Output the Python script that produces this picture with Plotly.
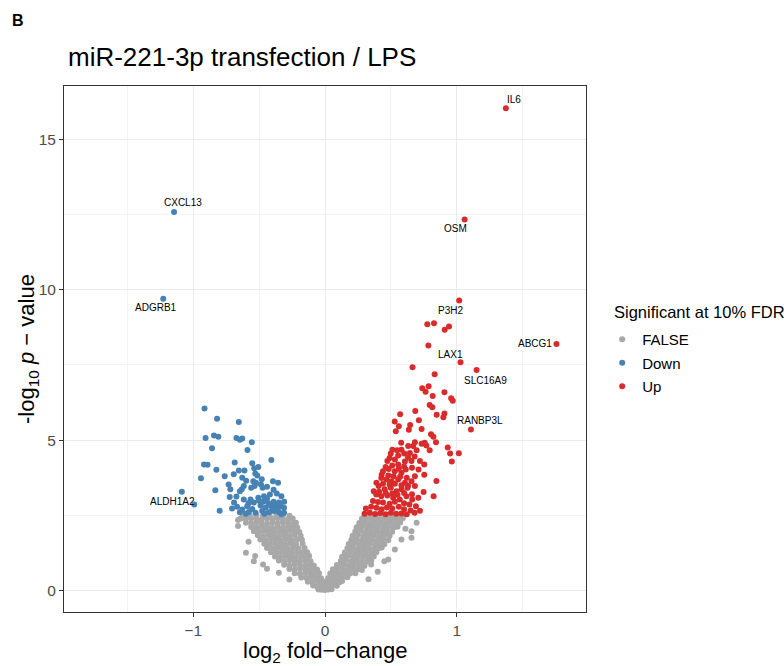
import plotly.graph_objects as go

# ---------------- data (log2 fold-change, -log10 p) ----------------
false_points = [
    (-0.05,0.03),(-0.025,0.02),(0.0,0.01),(0.025,0.03),(0.05,0.04),
    (-0.09,0.16),(-0.06,0.13),(-0.03,0.15),(0.0,0.12),(0.02,0.14),(0.055,0.16),(0.09,0.15),
    (-0.13,0.29),(-0.095,0.27),(-0.055,0.30),(-0.02,0.26),(0.01,0.30),(0.04,0.28),(0.075,0.30),(0.11,0.27),(0.13,0.31),
    (-0.18,0.43),(-0.14,0.41),(-0.10,0.44),(-0.065,0.42),(-0.03,0.40),(0.025,0.41),(0.055,0.41),(0.09,0.43),(0.13,0.42),(0.17,0.44),
    (-0.23,0.57),(-0.19,0.55),(-0.15,0.58),(-0.11,0.56),(-0.075,0.55),(-0.045,0.57),(0.04,0.56),(0.07,0.57),(0.11,0.55),(0.15,0.58),(0.19,0.56),(0.23,0.57),
    (-0.27,0.71),(-0.23,0.69),(-0.19,0.72),(-0.15,0.70),(-0.115,0.68),(-0.085,0.71),(-0.06,0.69),(0.06,0.70),(0.09,0.70),(0.13,0.72),(0.17,0.69),(0.21,0.71),(0.25,0.70),(0.28,0.68),
    (-0.31,0.85),(-0.27,0.83),(-0.23,0.86),(-0.19,0.84),(-0.15,0.82),(-0.115,0.85),(-0.085,0.83),(0.09,0.84),(0.12,0.85),(0.14,0.86),(0.18,0.83),(0.22,0.85),(0.26,0.84),(0.30,0.82),
    (-0.35,0.99),(-0.31,0.97),(-0.27,1.00),(-0.23,0.98),(-0.19,0.96),(-0.15,0.99),(-0.11,0.97),(0.12,0.98),(0.16,1.00),(0.20,0.97),(0.24,0.99),(0.28,0.98),(0.32,0.96),(0.35,0.99),
    (-0.38,1.13),(-0.34,1.11),(-0.30,1.14),(-0.26,1.12),(-0.22,1.10),(-0.18,1.13),(-0.14,1.11),(-0.12,1.14),(0.13,1.12),(0.17,1.14),(0.21,1.11),(0.25,1.13),(0.29,1.12),(0.33,1.10),(0.37,1.13),
    (-0.41,1.27),(-0.37,1.25),(-0.33,1.28),(-0.29,1.26),(-0.25,1.24),(-0.21,1.27),(-0.17,1.25),(-0.135,1.27),(0.15,1.26),(0.19,1.28),(0.23,1.25),(0.27,1.27),(0.31,1.26),(0.35,1.24),(0.39,1.27),
    (-0.44,1.41),(-0.40,1.39),(-0.36,1.42),(-0.32,1.40),(-0.28,1.38),(-0.24,1.41),(-0.20,1.39),(-0.155,1.41),(0.17,1.40),(0.21,1.42),(0.25,1.39),(0.29,1.41),(0.33,1.40),(0.37,1.38),(0.41,1.41),(0.43,1.43),
    (-0.46,1.55),(-0.42,1.53),(-0.38,1.56),(-0.34,1.54),(-0.30,1.52),(-0.26,1.55),(-0.22,1.53),(-0.17,1.55),(0.18,1.54),(0.22,1.56),(0.26,1.53),(0.30,1.55),(0.34,1.54),(0.38,1.52),(0.42,1.55),(0.45,1.53),
    (-0.49,1.69),(-0.45,1.67),(-0.41,1.70),(-0.37,1.68),(-0.33,1.66),(-0.29,1.69),(-0.25,1.67),(-0.21,1.70),(-0.175,1.68),(0.20,1.68),(0.24,1.70),(0.28,1.67),(0.32,1.69),(0.36,1.68),(0.40,1.66),(0.44,1.69),(0.48,1.67),
    (-0.51,1.83),(-0.47,1.81),(-0.43,1.84),(-0.39,1.82),(-0.35,1.80),(-0.31,1.83),(-0.27,1.81),(-0.23,1.84),(-0.185,1.82),(0.21,1.82),(0.25,1.84),(0.29,1.81),(0.33,1.83),(0.37,1.82),(0.41,1.80),(0.45,1.83),(0.49,1.81),
    (-0.54,1.97),(-0.50,1.95),(-0.46,1.98),(-0.42,1.96),(-0.38,1.94),(-0.34,1.97),(-0.30,1.95),(-0.26,1.98),(-0.22,1.96),(-0.195,1.94),(0.23,1.96),(0.27,1.98),(0.31,1.95),(0.35,1.97),(0.39,1.96),(0.43,1.94),(0.47,1.97),(0.51,1.95),
    (-0.56,2.11),(-0.52,2.09),(-0.48,2.12),(-0.44,2.10),(-0.40,2.08),(-0.36,2.11),(-0.32,2.09),(-0.28,2.12),(-0.24,2.10),(-0.21,2.08),(0.24,2.10),(0.28,2.12),(0.32,2.09),(0.36,2.11),(0.40,2.10),(0.44,2.08),(0.48,2.11),(0.52,2.09),(0.55,2.12),
    (-0.60,2.25),(-0.56,2.23),(-0.52,2.26),(-0.48,2.24),(-0.44,2.22),(-0.40,2.25),(-0.36,2.23),(-0.32,2.26),(-0.28,2.24),(-0.24,2.22),(-0.22,2.25),(0.26,2.24),(0.30,2.26),(0.34,2.23),(0.38,2.25),(0.42,2.24),(0.46,2.22),(0.50,2.25),(0.54,2.23),(0.57,2.26),
    (-0.64,2.39),(-0.60,2.37),(-0.56,2.40),(-0.52,2.38),(-0.48,2.36),(-0.44,2.39),(-0.40,2.37),(-0.36,2.40),(-0.32,2.38),(-0.28,2.36),(-0.245,2.39),(0.28,2.38),(0.32,2.40),(0.36,2.37),(0.40,2.39),(0.44,2.38),(0.48,2.36),(0.52,2.39),(0.56,2.37),(0.59,2.40),
    (-0.62,2.49),(-0.57,2.47),(-0.52,2.50),(-0.47,2.48),(-0.42,2.49),(-0.37,2.47),(-0.32,2.50),(-0.27,2.48),(0.30,2.48),(0.35,2.50),(0.40,2.47),(0.45,2.49),(0.50,2.48),(0.55,2.46),
    (-0.60,1.25),(-0.54,0.97),(-0.53,1.14),(-0.44,0.72),(-0.47,0.86),(-0.35,0.59),(-0.27,0.36),(-0.66,2.14),(-0.66,2.34),(-0.58,1.62),
    (0.656,1.75),(0.695,2.25),(0.656,1.97),(0.58,1.69),(0.53,1.36),(0.48,1.03),(0.45,0.97),(0.40,0.62),(0.35,0.86),(0.33,0.37),(0.61,2.05),
]

down_points = [
    (-1.086,3.28),
    (-0.914,6.05),(-0.819,5.71),(-0.654,5.60),
    (-0.906,5.07),(-0.842,5.15),(-0.809,5.11),(-0.672,5.07),(-0.646,5.01),(-0.628,5.05),(-0.555,4.93),
    (-0.857,4.73),(-0.588,4.67),
    (-0.918,4.19),(-0.891,4.18),(-0.685,4.25),(-0.552,4.23),(-0.407,4.34),
    (-0.824,4.01),(-0.654,3.99),(-0.611,3.99),(-0.537,4.06),(-0.506,4.10),
    (-0.692,3.86),(-0.529,3.89),
    (-0.941,3.73),(-0.761,3.80),(-0.628,3.75),(-0.514,3.82),
    (-0.731,3.52),(-0.598,3.65),(-0.544,3.63),(-0.524,3.58),(-0.486,3.52),(-0.395,3.63),(-0.356,3.58),
    (-0.832,3.33),(-0.718,3.36),(-0.631,3.36),(-0.616,3.47),(-0.560,3.41),(-0.534,3.47),(-0.473,3.41),(-0.646,3.30),
    (-0.723,3.11),(-0.672,3.12),(-0.616,3.02),(-0.565,3.02),(-0.506,3.08),(-0.463,3.13),(-0.418,3.19),(-0.366,3.22),(-0.331,3.13),
    (-0.799,2.65),(-0.705,2.72),(-0.667,2.78),(-0.628,2.69),(-0.590,2.80),(-0.552,2.71),(-0.489,2.82),(-0.450,2.75),
    (-0.412,2.82),(-0.374,2.78),(-0.336,2.80),(-0.311,2.75),
    (-0.476,2.64),(-0.425,2.60),(-0.387,2.64),(-0.349,2.60),(-0.311,2.58),(-0.527,2.58),(-0.578,2.61),(-0.646,2.60),
    (-0.54,2.92),(-0.47,2.95),(-0.43,2.90),(-0.39,2.95),(-0.35,2.92),(-0.31,2.95),(-0.40,2.70),(-0.36,2.70),
    (-0.46,2.55),(-0.33,2.53),(-0.69,2.92),(-0.60,2.55),(-0.44,3.05),(-0.50,2.98),(-0.58,2.90),
    (-0.39,3.35),(-0.44,3.45),(-0.48,3.70),
]

up_points = [
    (0.776,8.85),(0.827,8.89),(0.908,8.67),(0.941,8.78),(0.784,8.15),
    (0.664,7.42),(0.832,7.19),
    (0.738,6.72),(0.786,6.79),(0.763,6.61),(0.817,6.47),(0.906,6.59),(0.957,6.39),(0.969,6.31),
    (0.794,6.17),(0.814,6.09),(0.685,5.97),(0.570,5.86),(0.847,5.84),(0.906,5.88),(0.898,5.76),
    (0.529,5.62),(0.560,5.46),(0.646,5.50),(0.712,5.66),(0.733,5.37),(0.537,5.29),(0.636,5.34),
    (0.804,5.19),(0.822,5.11),(0.842,4.93),(0.931,4.75),(0.949,4.55),(1.015,4.56),(0.962,4.29),
    (0.756,4.91),(0.769,4.82),(0.794,4.66),(0.733,4.88),(0.682,4.93),(0.669,4.80),(0.631,4.80),
    (0.578,4.91),(0.580,4.68),(0.547,4.66),(0.511,4.68),(0.499,4.55),(0.555,4.49),(0.601,4.55),
    (0.644,4.57),(0.695,4.66),
    (0.473,4.30),(0.555,4.19),(0.606,4.29),(0.656,4.30),(0.720,4.30),(0.753,4.19),
    (0.440,3.96),(0.483,4.04),(0.529,3.96),(0.580,3.91),(0.613,4.02),(0.682,3.80),(0.753,3.85),(0.845,3.64),
    (0.427,3.74),(0.466,3.69),(0.504,3.63),(0.555,3.69),(0.606,3.58),(0.656,3.63),
    (0.407,3.47),(0.453,3.36),(0.499,3.41),(0.542,3.30),(0.580,3.36),(0.626,3.41),(0.682,3.47),(0.748,3.27),(0.824,3.13),
    (0.389,3.19),(0.427,3.13),(0.473,3.16),(0.517,3.08),(0.567,3.02),(0.618,3.13),(0.662,3.02),(0.708,3.08),
    (0.364,2.97),(0.402,2.94),
    (0.44,2.92),(0.49,2.88),(0.53,2.95),(0.60,2.90),(0.64,2.86),(0.69,2.80),(0.72,2.65),
    (0.31,2.72),(0.35,2.78),(0.39,2.75),(0.43,2.70),(0.47,2.76),(0.51,2.72),(0.56,2.78),(0.60,2.70),(0.65,2.66),(0.68,2.58),
    (0.30,2.55),(0.34,2.58),(0.38,2.54),(0.42,2.57),(0.46,2.53),(0.50,2.58),(0.54,2.55),(0.58,2.56),(0.62,2.53),
    (0.37,3.30),(0.41,3.28),(0.46,3.25),(0.51,3.22),(0.55,3.18),(0.60,3.24),(0.66,3.20),
    (0.39,3.58),(0.44,3.55),(0.49,3.52),(0.53,3.55),(0.58,3.50),(0.63,3.48),
    (0.43,3.85),(0.48,3.82),(0.52,3.80),(0.57,3.78),(0.62,3.75),
    (0.46,4.10),(0.51,4.15),(0.56,4.05),(0.60,4.12),(0.66,4.08),(0.71,4.02),
    (0.49,4.40),(0.53,4.35),(0.63,4.42),(0.68,4.45),
]

# labelled genes
label_gene  = ["IL6", "CXCL13", "OSM", "ADGRB1", "P3H2", "ABCG1", "LAX1", "SLC16A9", "RANBP3L", "ALDH1A2"]
label_group = ["Up", "Down", "Up", "Down", "Up", "Up", "Up", "Up", "Up", "Down"]
label_x     = [1.372, -1.145, 1.059, -1.227, 1.018, 1.756, 1.028, 1.150, 1.107, -0.992]
label_y     = [16.04, 12.59, 12.34, 9.70, 9.64, 8.20, 7.59, 7.33, 5.35, 2.86]
# label text offsets from point (pixels, dx right, dy down)
label_offset = {
    "IL6": (8, -9), "CXCL13": (9, -9), "OSM": (-9, 9), "ADGRB1": (-7, 9),
    "P3H2": (-9, 10), "ABCG1": (-21, 0), "LAX1": (-10, -8), "SLC16A9": (9, 10),
    "RANBP3L": (9, -9), "ALDH1A2": (-22, -3),
}

groups = ["FALSE", "Down", "Up"]
legend_title = "Significant at 10% FDR"
colors = {"FALSE": "#A8A8A8", "Down": "#4682B4", "Up": "#D92B2B"}
group_points = {"FALSE": false_points, "Down": down_points, "Up": up_points}

FONT = "Liberation Sans, Arial, Helvetica, sans-serif"

fig = go.Figure()
for g in groups:
    xs = [p[0] for p in group_points[g]]
    ys = [p[1] for p in group_points[g]]
    for gx, gy, gg in zip(label_x, label_y, label_group):
        if gg == g:
            xs.append(gx)
            ys.append(gy)
    fig.add_trace(go.Scatter(
        x=xs, y=ys, mode="markers", name=g, legendgroup=g,
        marker=dict(color=colors[g], size=6, line=dict(width=0)),
        hoverinfo="skip",
    ))

annotations = []
for gene, gx, gy in zip(label_gene, label_x, label_y):
    dx, dy = label_offset[gene]
    annotations.append(dict(
        x=gx, y=gy, xref="x", yref="y", text=gene, showarrow=False,
        xshift=dx, yshift=-dy, font=dict(family=FONT, size=10, color="black"),
        xanchor="center", yanchor="middle",
    ))

# panel tag, axis titles, legend title
annotations.append(dict(text="<b>B</b>", xref="paper", yref="paper", x=-0.104, y=1.125,
                        xanchor="left", yanchor="middle", showarrow=False,
                        font=dict(family=FONT, size=16, color="black")))
annotations.append(dict(text="log<sub>2</sub> fold\u2212change", xref="paper", yref="paper",
                        x=0.5, y=-0.076, xanchor="center", yanchor="middle", showarrow=False,
                        font=dict(family=FONT, size=22, color="black")))
annotations.append(dict(text="-log<sub>10</sub> <i>p</i> \u2212 value", xref="paper", yref="paper",
                        x=-0.069, y=0.5, xanchor="center", yanchor="middle", showarrow=False,
                        textangle=-90, font=dict(family=FONT, size=22, color="black")))
annotations.append(dict(text=legend_title, xref="paper", yref="paper",
                        x=(612 - 64) / 522, y=(612 - 312) / 526, xanchor="left", yanchor="middle",
                        showarrow=False, font=dict(family=FONT, size=16.5, color="black")))

axis_common = dict(
    showline=True, mirror=True, linecolor="#333333", linewidth=1,
    ticks="outside", ticklen=4, tickwidth=1, tickcolor="#333333",
    showgrid=True, gridcolor="#EBEBEB", gridwidth=1, zeroline=False,
    tickfont=dict(family=FONT, size=15.5, color="#4D4D4D"),
)

fig.update_layout(
    width=784, height=666,
    margin=dict(l=64, r=198, t=86, b=54),
    paper_bgcolor="white", plot_bgcolor="white",
    font=dict(family=FONT, color="black"),
    title=dict(text="miR-221-3p transfection / LPS", x=68 / 784, xref="container", xanchor="left",
               y=1 - 57 / 666, yref="container", yanchor="middle",
               font=dict(family=FONT, size=26, color="black")),
    xaxis=dict(range=[-1.98, 1.98], tickmode="array", tickvals=[-1, 0, 1],
               minor=dict(tickmode="array", tickvals=[-1.5, -0.5, 0.5, 1.5], showgrid=True,
                          gridcolor="#F3F3F3", gridwidth=0.6, ticks=""),
               **axis_common),
    yaxis=dict(range=[-0.72, 16.78], tickmode="array", tickvals=[0, 5, 10, 15],
               minor=dict(tickmode="array", tickvals=[2.5, 7.5, 12.5], showgrid=True,
                          gridcolor="#F3F3F3", gridwidth=0.6, ticks=""),
               **axis_common),
    legend=dict(x=1.031, y=(612 - 323) / 526, xanchor="left", yanchor="top",
                font=dict(family=FONT, size=15, color="black"),
                traceorder="grouped", tracegroupgap=1,
                bgcolor="rgba(0,0,0,0)"),
    annotations=annotations,
    showlegend=True,
)

fig.write_html("out.html", config={"displayModeBar": False},
               post_script="document.body.style.margin='0px';")
